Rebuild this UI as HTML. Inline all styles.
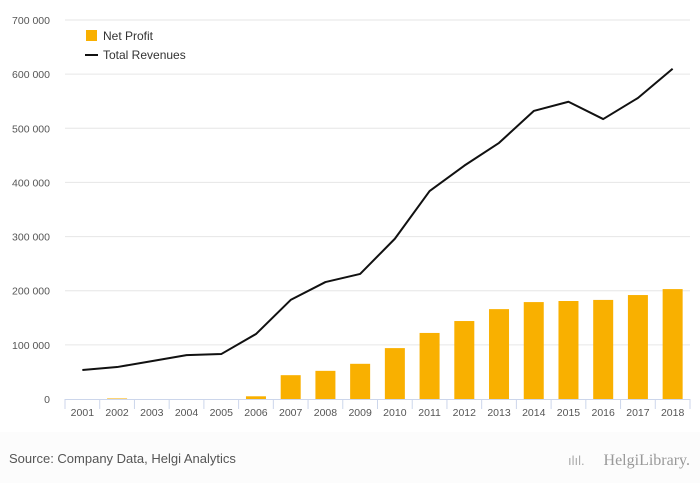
<!DOCTYPE html>
<html><head><meta charset="utf-8"><style>
body{margin:0;background:#fff;font-family:"Liberation Sans",sans-serif}
#wrap{position:relative;width:700px;height:483px;overflow:hidden;background:#fff}
#footer{position:absolute;left:0;top:432px;width:700px;height:51px;background:#fcfcfc}
</style></head><body>
<div id="wrap">
<div id="footer"></div>
<svg id="chart" width="700" height="483" style="position:absolute;left:0;top:0"></svg>
</div>
<script>
const years=["2001","2002","2003","2004","2005","2006","2007","2008","2009","2010","2011","2012","2013","2014","2015","2016","2017","2018"];
const netProfit=[0,1000,0,0,0,5000,44000,52000,65000,94000,122000,144000,166000,179000,181000,183000,192000,203000];
const totalRevenues=[53600,59000,70000,81000,83000,120000,183000,216000,231000,296000,384000,431000,473000,532000,549000,517000,556000,610000];
const yTicks=[0,100000,200000,300000,400000,500000,600000,700000];
const yTickLabels=["0","100 000","200 000","300 000","400 000","500 000","600 000","700 000"];
const NS="http://www.w3.org/2000/svg";
const svg=document.getElementById('chart');
const x0=65,x1=690,y0=399,y1=20,yMax=700000;
const step=(x1-x0)/years.length;
const xC=i=>x0+step*(i+0.5);
const yS=v=>y0-(v/yMax)*(y0-y1);
function mk(tag,attrs,text){const e=document.createElementNS(NS,tag);for(const k in attrs)e.setAttribute(k,attrs[k]);if(text!==undefined)e.textContent=text;svg.appendChild(e);return e;}
yTicks.forEach((t,i)=>{
  if(t>0){const g=mk('line',{x1:x0,x2:x1,y1:yS(t),y2:yS(t),stroke:'#e6e6e6','stroke-width':1});
  
  }
  const l=mk('text',{x:50,y:yS(t)+4,'text-anchor':'end','font-size':'10.5',fill:'#555'},yTickLabels[i]);
  
  
});
netProfit.forEach((v,i)=>{
  const h=y0-yS(v);
  const b=mk('rect',{x:xC(i)-10,y:yS(v),width:20,height:Math.max(h,0),fill:'#f9b000'});
  
  
});
const ax=mk('line',{x1:x0,x2:x1,y1:y0+0.5,y2:y0+0.5,stroke:'#ccd6eb','stroke-width':1});


for(let i=0;i<=years.length;i++){
  const tk=mk('line',{x1:x0+step*i,x2:x0+step*i,y1:y0,y2:y0+10,stroke:'#ccd6eb'});
  
  
}
years.forEach((yr,i)=>{
  const t=mk('text',{x:xC(i),y:416,'text-anchor':'middle','font-size':'10.5',fill:'#555'},yr);
  
  
});
const pts=totalRevenues.map((v,i)=>xC(i)+','+yS(v)).join(' ');
const ln=mk('polyline',{points:pts,fill:'none',stroke:'#111','stroke-width':2,'stroke-linejoin':'round'});


const lb=mk('rect',{x:86,y:30,width:11,height:11,fill:'#f9b000'});


const lt1=mk('text',{x:103,y:40,'font-size':'12',fill:'#333'},'Net Profit');


const ll=mk('line',{x1:85,x2:98,y1:55,y2:55,stroke:'#111','stroke-width':2});


const lt2=mk('text',{x:103,y:59,'font-size':'12',fill:'#333'},'Total Revenues');


const src=mk('text',{x:9,y:463,'font-size':'13',fill:'#555'},'Source: Company Data, Helgi Analytics');


const logo=mk('text',{x:690,y:465,'text-anchor':'end','font-size':'16','font-family':'Liberation Serif,serif',fill:'#999'},'HelgiLibrary.');


const ic=mk('text',{x:568,y:465,'font-size':'13',fill:'#aaa'},'ılıl.');


</script>
</body></html>
